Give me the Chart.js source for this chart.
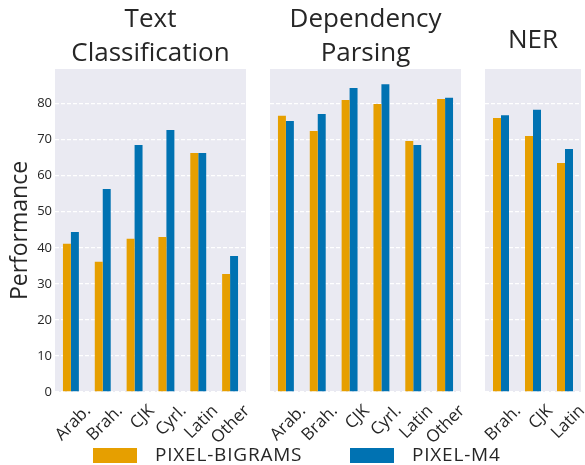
<!DOCTYPE html>
<html>
<head>
<meta charset="utf-8">
<script src="https://cdn.jsdelivr.net/npm/chart.js@4/dist/chart.umd.min.js"></script>
<style>
  body { margin: 0; background: #fff; font-family: "Open Sans", sans-serif; }
  #wrap { position: relative; width: 585px; height: 465px; }
  #wrap canvas { position: absolute; left: 0; top: 0; }
  .leg-box { position: absolute; top: 448px; width: 44px; height: 15px; }
  .leg-txt { position: absolute; top: 442px; font-size: 19px; line-height: 24px; letter-spacing: 0.8px; color: #262626; }
</style>
</head>
<body>
<div id="wrap">
  <canvas id="c1" width="585" height="465"></canvas>
  <canvas id="c2" width="585" height="465"></canvas>
  <canvas id="c3" width="585" height="465"></canvas>
  <div class="leg-box" style="left:93px;background:#E69F00"></div>
  <div class="leg-txt" style="left:155px">PIXEL-BIGRAMS</div>
  <div class="leg-box" style="left:350px;background:#0072B2"></div>
  <div class="leg-txt" style="left:412px">PIXEL-M4</div>
</div>
<script>
const tcCategories = ["Arab.", "Brah.", "CJK", "Cyrl.", "Latin", "Other"];
const tcBigrams = [41.1, 36.1, 42.5, 43.0, 66.3, 32.7];
const tcM4 = [44.4, 56.3, 68.5, 72.7, 66.3, 37.7];

const dpCategories = ["Arab.", "Brah.", "CJK", "Cyrl.", "Latin", "Other"];
const dpBigrams = [76.6, 72.4, 81.0, 79.9, 69.6, 81.3];
const dpM4 = [75.2, 77.1, 84.3, 85.4, 68.5, 81.6];

const nerCategories = ["Brah.", "CJK", "Latin"];
const nerBigrams = [76.0, 71.0, 63.5];
const nerM4 = [76.8, 78.3, 67.4];

const yTicks = [0, 10, 20, 30, 40, 50, 60, 70, 80];

const ORANGE = "#E69F00", BLUE = "#0072B2", TXT = "#262626";
const FONT = "'Open Sans', sans-serif";

const plotBg = {
  id: "plotBg",
  beforeDraw(chart) {
    const { ctx, chartArea: a } = chart;
    ctx.save();
    ctx.fillStyle = "#EAEAF2";
    ctx.fillRect(a.left, a.top, a.right - a.left, a.bottom - a.top);
    ctx.restore();
  }
};

function makePanel(id, labels, big, m4, title, pad, showY) {
  return new Chart(document.getElementById(id), {
    type: "bar",
    data: {
      labels: labels,
      datasets: [
        { label: "PIXEL-BIGRAMS", data: big, backgroundColor: ORANGE },
        { label: "PIXEL-M4", data: m4, backgroundColor: BLUE }
      ]
    },
    options: {
      responsive: false,
      animation: false,
      layout: { padding: pad.layout },
      categoryPercentage: 0.5,
      barPercentage: 1.0,
      plugins: {
        legend: { display: false },
        tooltip: { enabled: false },
        title: {
          display: true,
          fullSize: false,
          text: title,
          color: TXT,
          font: { family: FONT, size: 26, weight: "normal", lineHeight: "34px" },
          padding: pad.title
        }
      },
      scales: {
        x: {
          grid: { display: false },
          border: { display: false },
          ticks: {
            color: TXT, font: { family: FONT, size: 17 },
            minRotation: 45, maxRotation: 45, autoSkip: false,
            padding: 1, labelOffset: 17
          },
          afterFit: s => { s.height = 73; }
        },
        y: {
          min: 0,
          max: 89.6,
          grid: { color: "#ffffff", lineWidth: 1.3, drawTicks: false },
          border: { display: false, dash: [4, 2] },
          ticks: { display: showY, color: TXT, font: { family: FONT, size: 13 }, padding: 3, stepSize: 10 },
          afterBuildTicks: s => { s.ticks = yTicks.map(v => ({ value: v })); },
          title: {
            display: showY,
            text: "Performance",
            color: TXT,
            font: { family: FONT, size: 23 },
            padding: { top: 7, bottom: 0 }
          },
          afterFit: s => { s.width = showY ? 55 : 0; }
        }
      }
    },
    plugins: [plotBg]
  });
}

makePanel("c1", tcCategories, tcBigrams, tcM4, ["Text", "Classification"],
  { layout: { left: 0, right: 339, top: 0, bottom: 0 }, title: { top: 3, bottom: -2 } }, true);
makePanel("c2", dpCategories, dpBigrams, dpM4, ["Dependency", "Parsing"],
  { layout: { left: 270, right: 124, top: 0, bottom: 0 }, title: { top: 3, bottom: -2 } }, false);
makePanel("c3", nerCategories, nerBigrams, nerM4, "NER",
  { layout: { left: 485, right: 4, top: 0, bottom: 0 }, title: { top: 24, bottom: 11 } }, false);
</script>
</body>
</html>
